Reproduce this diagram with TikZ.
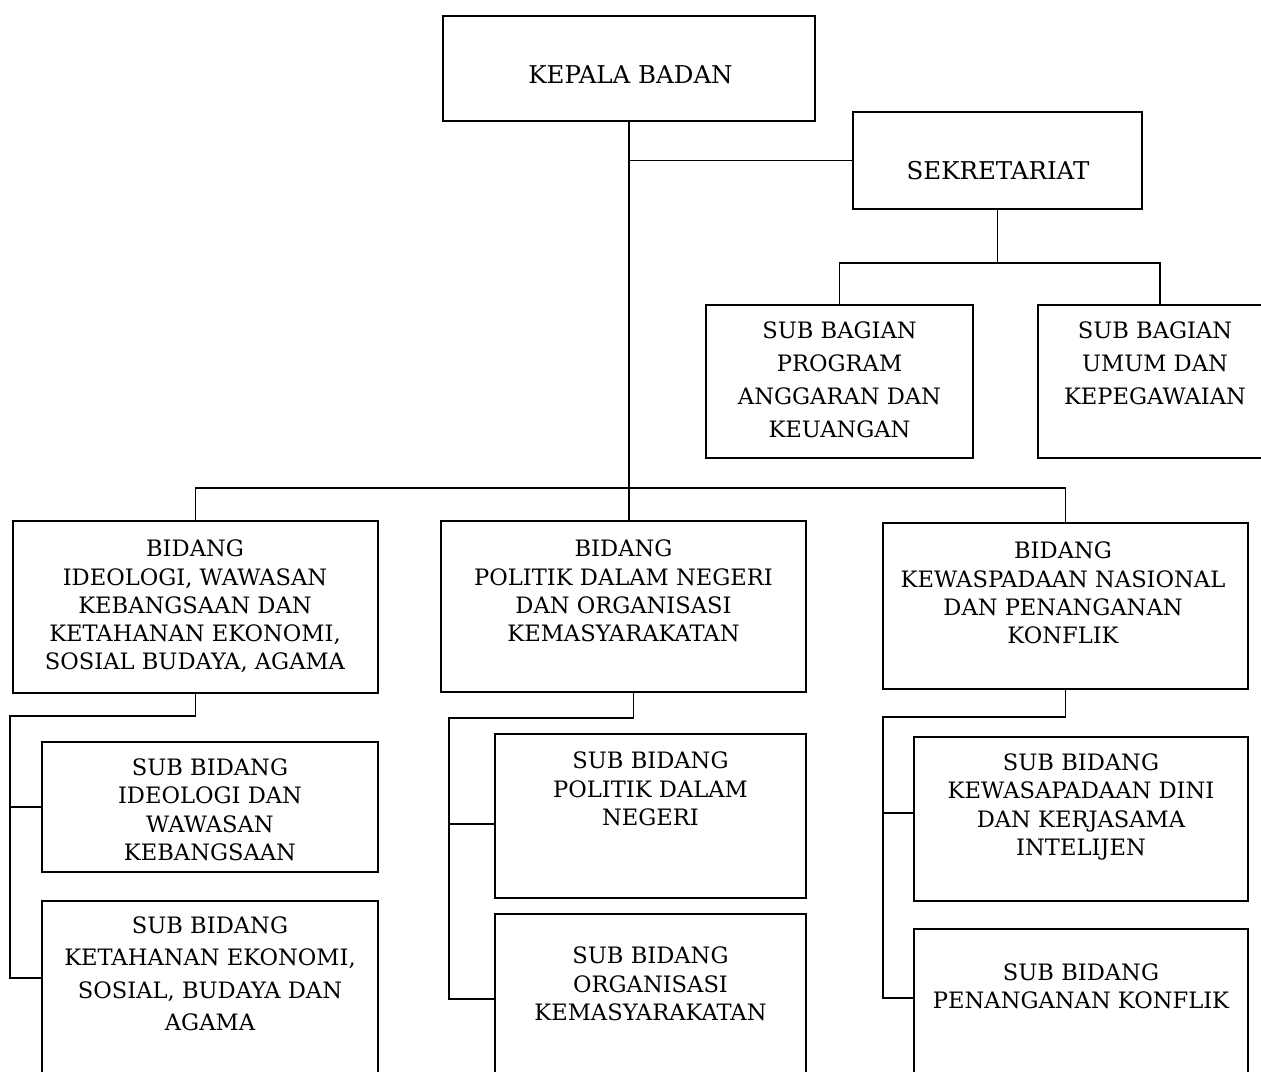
\documentclass[tikz,border=0pt]{standalone}
\usepackage{fontspec}
\setmainfont{DejaVu Serif}
\usetikzlibrary{calc}
\tikzset{
  box/.style={draw, line width=1.9pt, inner sep=0pt},
  conn/.style={line width=1.9pt},
  lbl/.style={align=center, inner sep=0pt, anchor=north, font=\fontsize{22.6}{28.3}\selectfont},
  lblw/.style={lbl, font=\fontsize{22.6}{33}\selectfont},
  lblm/.style={lbl, font=\fontsize{22.6}{32.2}\selectfont},
  lblb/.style={lbl, font=\fontsize{24.5}{30}\selectfont},
}
\begin{document}
\begin{tikzpicture}[x=1pt,y=-1pt]
\useasboundingbox (0,0) rectangle (1261,1071);
\clip (0,0) rectangle (1261,1071);
% boxes
\node[box, minimum width=372, minimum height=105] (kepala) at (629,68.5) {};
\node[box, minimum width=289, minimum height=97] (sek) at (997.5,160.5) {};
\node[box, minimum width=267, minimum height=153] (sb1) at (839.5,381.5) {};
\node[box, minimum width=244, minimum height=153] (sb2) at (1160,381.5) {};
\node[box, minimum width=365, minimum height=172] (bid1) at (195.5,607) {};
\node[box, minimum width=365, minimum height=170.7] (bid2) at (623.5,606.3) {};
\node[box, minimum width=365, minimum height=166] (bid3) at (1065.5,606) {};
\node[box, minimum width=336, minimum height=130.3] (ls1) at (210,806.9) {};
\node[box, minimum width=336, minimum height=189] (ls2) at (210,995.5) {};
\node[box, minimum width=311, minimum height=164] (ms1) at (650.5,816) {};
\node[box, minimum width=311, minimum height=176] (ms2) at (650.5,1002) {};
\node[box, minimum width=334, minimum height=164] (rs1) at (1081,818.7) {};
\node[box, minimum width=334, minimum height=161] (rs2) at (1081,1009.5) {};
% texts
\node[lblb] (kepalat) at (630.5,65) {KEPALA BADAN};
\node[lblb] (sekt) at (998,161) {SEKRETARIAT};
\node[lblw] (sb1t) at (839.5,321.8) {SUB BAGIAN\\PROGRAM\\ANGGARAN DAN\\KEUANGAN};
\node[lblw] (sb2t) at (1155,321.8) {SUB BAGIAN\\UMUM DAN\\KEPEGAWAIAN};
\node[lbl] (bid1t) at (195,539.8) {BIDANG\\IDEOLOGI, WAWASAN\\KEBANGSAAN DAN\\KETAHANAN EKONOMI,\\SOSIAL BUDAYA, AGAMA};
\node[lbl] (bid2t) at (623.5,539.8) {BIDANG\\POLITIK DALAM NEGERI\\DAN ORGANISASI\\KEMASYARAKATAN};
\node[lbl] (bid3t) at (1063,541.8) {BIDANG\\KEWASPADAAN NASIONAL\\DAN PENANGANAN\\KONFLIK};
\node[lbl] (ls1t) at (210,758.5) {SUB BIDANG\\IDEOLOGI DAN\\WAWASAN\\KEBANGSAAN};
\node[lblm] (ls2t) at (210,916.8) {SUB BIDANG\\KETAHANAN EKONOMI,\\SOSIAL, BUDAYA DAN\\AGAMA};
\node[lbl] (ms1t) at (650.5,751.8) {SUB BIDANG\\POLITIK DALAM\\NEGERI};
\node[lbl] (ms2t) at (650.5,946.8) {SUB BIDANG\\ORGANISASI\\KEMASYARAKATAN};
\node[lbl] (rs1t) at (1081,753.5) {SUB BIDANG\\KEWASAPADAAN DINI\\DAN KERJASAMA\\INTELIJEN};
\node[lbl] (rs2t) at (1081,963.5) {SUB BIDANG\\PENANGANAN KONFLIK};
% connectors
\coordinate (sbus) at (1000,263);
\coordinate (bus) at (629,488);
\coordinate (lL) at (10,716);
\coordinate (mL) at (449,717.7);
\coordinate (rL) at (883,716.7);
\coordinate (bid2c) at ($(bid2.south)+(10,0)$);
\coordinate (ls2b) at ($(ls2.north west)+(0,78)$);
\coordinate (ms1b) at ($(ms1.north west)+(0,91)$);
\coordinate (ms2b) at ($(ms2.north west)+(0,86)$);
\coordinate (rs1b) at ($(rs1.north west)+(0,77)$);
\coordinate (rs2b) at ($(rs2.north west)+(0,70)$);
\draw[conn] (kepala.south) -- (kepala.south |- bid2.north);
\draw[conn] (kepala.south |- sek.west) -- (sek.west);
\draw[conn] (sek.south) -- (sek.south |- sbus);
\draw[conn] (sb1.north) -- (sb1.north |- sbus) -- (sb2.north |- sbus) -- (sb2.north);
\draw[conn] (bid1.north) -- (bid1.north |- bus) -- (bid3.north |- bus) -- (bid3.north);
\draw[conn] (bid1.south) -- (bid1.south |- lL) -- (lL) -- (lL |- ls2b) -- (ls2b);
\draw[conn] (lL |- ls1.west) -- (ls1.west);
\draw[conn] (bid2c) -- (bid2c |- mL) -- (mL) -- (mL |- ms2b) -- (ms2b);
\draw[conn] (mL |- ms1b) -- (ms1b);
\draw[conn] (bid3.south) -- (bid3.south |- rL) -- (rL) -- (rL |- rs2b) -- (rs2b);
\draw[conn] (rL |- rs1b) -- (rs1b);
\end{tikzpicture}
\end{document}
